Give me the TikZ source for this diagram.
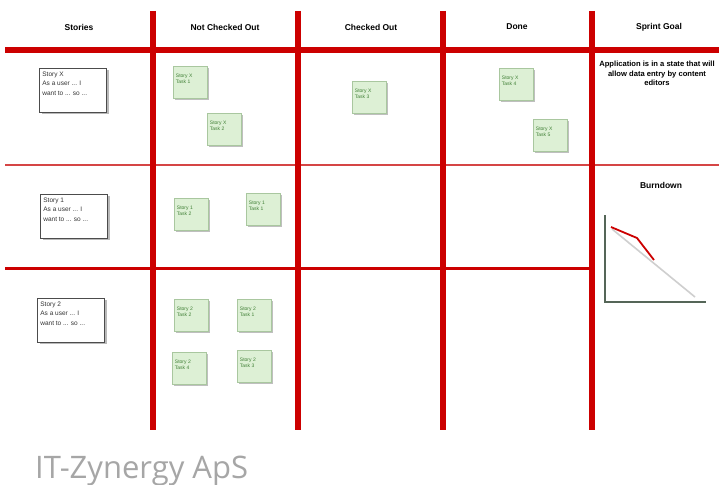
\documentclass[tikz,border=0pt]{standalone}
\usepackage{fontspec}
\setmainfont{Liberation Sans}
\newfontfamily\footfont{Open Sans}
\usetikzlibrary{shadows}
\definecolor{boardred}{HTML}{CC0000}
\definecolor{thinred}{HTML}{D54545}
\definecolor{taskfill}{HTML}{DDF0D5}
\definecolor{taskdraw}{HTML}{A9C79F}
\definecolor{tasktext}{HTML}{3F7F35}
\definecolor{axisgray}{HTML}{556658}
\definecolor{idealgray}{HTML}{CFCFCF}
\definecolor{footgray}{HTML}{A6A6A6}
\begin{document}
\begin{tikzpicture}[x=1pt,y=-1pt,
  thickred/.style={line width=6pt,boardred},
  thinredline/.style={line width=1.8pt,thinred},
  midredline/.style={line width=3pt,boardred},
  header/.style={font=\bfseries\fontsize{8.5}{10}\selectfont,inner sep=0pt},
  storycard/.style={draw=gray!60!black,fill=white,line width=0.6pt,minimum width=67pt,minimum height=44pt,inner sep=0pt,drop shadow={shadow xshift=2pt,shadow yshift=-2pt,fill=gray!55,opacity=1}},
  storytext/.style={anchor=north west,align=left,inner sep=0pt,font=\fontsize{6.5}{9.5}\selectfont,text=black!80},
  taskcard/.style={draw=taskdraw,fill=taskfill,line width=0.5pt,minimum width=34pt,minimum height=32pt,inner sep=0pt,drop shadow={shadow xshift=2pt,shadow yshift=-2pt,fill=gray!50,opacity=1}},
  tasklabel/.style={anchor=north west,align=left,inner sep=0pt,font=\fontsize{5}{6}\selectfont,text=tasktext},
]
\useasboundingbox (0,0) rectangle (719,484);
\clip (0,0) rectangle (719,484);
\fill[white] (0,0) rectangle (719,484);

% grid
\draw[thinredline] (5,165) -- (719,165);
\draw[midredline] (5,268) -- (592,268);
\draw[thickred] (5,50) -- (719,50);
\foreach \xx in {153,298,443,592} {
  \draw[thickred] (\xx,11) -- (\xx,430);
}

% headers
\node[header] (hstories) at (79,27) {Stories};
\node[header] (hnot) at (225,27) {Not Checked Out};
\node[header] (hchecked) at (371,27) {Checked Out};
\node[header] (hdone) at (517,27) {Done};
\node[header] (hgoal) at (659,27) {Sprint Goal};

% sprint goal
\node[align=center,inner sep=0pt,font=\bfseries\fontsize{7.6}{9.3}\selectfont,anchor=north] (goal) at (657,61)
  {Application is in a state that will\\allow data entry by content\\editors};
\node[header] (hburn) at (661,185) {Burndown};

% burndown chart
\draw[line width=1.6pt,idealgray] (612,229) -- (695,297);
\draw[line width=1.2pt,axisgray] (605,215) -- (605,302) -- (706,302);
\draw[line width=1.8pt,red!80!black,line join=round] (611,227) -- (637,238) -- (654,260);

% story cards
\node[storycard] (sx) at (73,90) {};
\node[storytext] (sxt) at ([xshift=3pt,yshift=-4pt]sx.north west) {Story X\\As a user ... I\\want to ... so ...};
\node[storycard] (s1) at (74,216) {};
\node[storytext] (s1t) at ([xshift=3pt,yshift=-4pt]s1.north west) {Story 1\\As a user ... I\\want to ... so ...};
\node[storycard] (s2) at (71,320) {};
\node[storytext] (s2t) at ([xshift=3pt,yshift=-4pt]s2.north west) {Story 2\\As a user ... I\\want to ... so ...};

% task cards
\foreach \nm/\cx/\cy/\txt in {
  tx1/190/82/{Story X\\Task 1},
  tx2/224/129/{Story X\\Task 2},
  tx3/369/97/{Story X\\Task 3},
  tx4/516/84/{Story X\\Task 4},
  tx5/550/135/{Story X\\Task 5},
  ta2/191/214/{Story 1\\Task 2},
  ta1/263/209/{Story 1\\Task 1},
  tb2/191/315/{Story 2\\Task 2},
  tb1/254/315/{Story 2\\Task 1},
  tb4/189/368/{Story 2\\Task 4},
  tb3/254/366/{Story 2\\Task 3}} {
  \node[taskcard] (\nm) at (\cx,\cy) {};
  \node[tasklabel] (\nm-t) at ([xshift=3pt,yshift=-8pt]\nm.north west) {\txt};
}

% footer
\node[anchor=base west,inner sep=0pt,font=\footfont\fontsize{31}{32}\selectfont,text=footgray] (footer) at (35,478) {IT-Zynergy ApS};
\end{tikzpicture}
\end{document}
